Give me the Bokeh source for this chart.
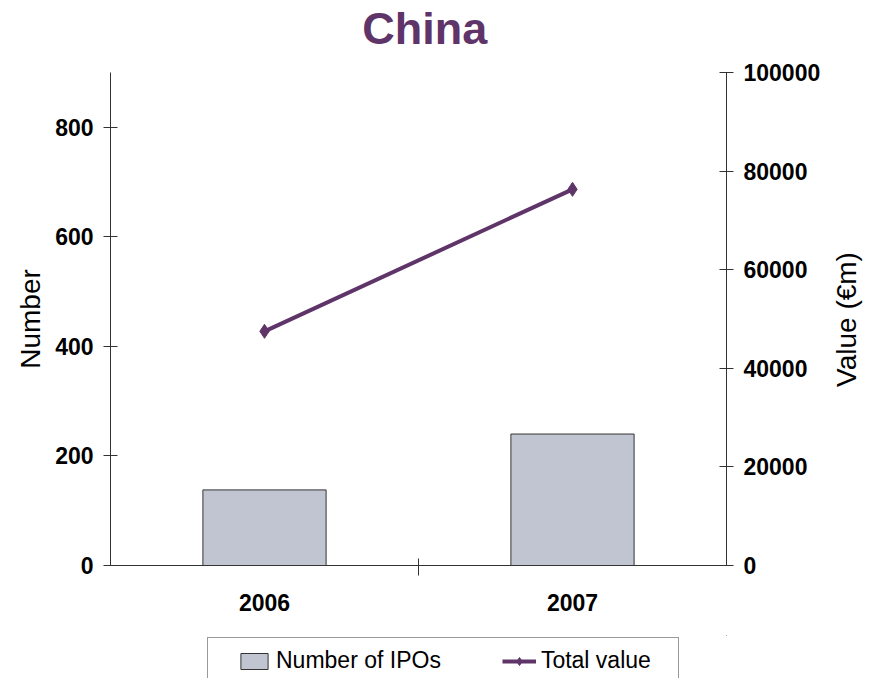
import math
from bokeh.plotting import figure
from bokeh.layouts import column, row
from bokeh.models import (Range1d, LinearAxis, FixedTicker, Legend, LegendItem,
                          NumeralTickFormatter, Label)
from bokeh.embed import file_html
from bokeh.resources import INLINE

# ---- data ----
title_text = "China"
years = ["2006", "2007"]
num_ipos = [138, 240]
total_value = [47500, 76300]
left_ticks = [0, 200, 400, 600, 800]
right_ticks = [0, 20000, 40000, 60000, 80000, 100000]
series_names = ["Number of IPOs", "Total value"]
left_title = "Number"
right_title = "Value (€m)"

PURPLE = "#5f3468"
BAR_FILL = "#c0c5d1"
AXIS_COL = "#333333"
FONT = "Liberation Sans"
W = 830  # width of the chart column; the right title sits in a 40px strip


def strip(width, height, xr, yr):
    f = figure(width=width, height=height, output_backend="svg",
               toolbar_location=None, x_range=xr, y_range=yr,
               min_border_left=0, min_border_right=0, min_border_top=0,
               min_border_bottom=0, x_axis_location=None, y_axis_location=None)
    f.outline_line_color = None
    f.xgrid.visible = False
    f.ygrid.visible = False
    return f


# ---- title strip ----
ts = strip(W, 60, Range1d(0, 1), Range1d(0, 60))
ts.add_layout(Label(x=0.51, y=32, text=title_text, text_font=FONT,
                    text_font_size="45px", text_font_style="bold",
                    text_color=PURPLE, text_align="center",
                    text_baseline="alphabetic"))

# ---- main chart ----
xpos = [i + 0.5 for i in range(len(years))]

p = figure(width=W, height=575, output_backend="svg", toolbar_location=None,
           x_range=Range1d(0, len(years)), y_range=Range1d(0, 900),
           min_border_left=110, min_border_right=W - 726, min_border_top=12,
           min_border_bottom=70, x_axis_location=None, y_axis_location=None)
p.outline_line_color = None
p.xgrid.visible = False
p.ygrid.visible = False
p.extra_y_ranges = {"val": Range1d(0, 100000)}

xaxis = LinearAxis(ticker=FixedTicker(ticks=xpos, minor_ticks=[1]))
xaxis.major_label_overrides = {x: y for x, y in zip(xpos, years)}
xaxis.major_tick_in = 0
xaxis.major_tick_out = 0
xaxis.minor_tick_in = 7
xaxis.minor_tick_out = 10
xaxis.minor_tick_line_color = AXIS_COL
xaxis.axis_line_color = AXIS_COL
xaxis.major_label_standoff = 18
xaxis.major_label_text_font = FONT
xaxis.major_label_text_font_size = "23px"
xaxis.major_label_text_font_style = "bold"
xaxis.major_label_text_color = "black"
p.add_layout(xaxis, "below")

yaxis = LinearAxis(ticker=FixedTicker(ticks=left_ticks, minor_ticks=[]),
                   axis_label=left_title)
p.add_layout(yaxis, "left")

raxis = LinearAxis(y_range_name="val",
                   ticker=FixedTicker(ticks=right_ticks, minor_ticks=[]),
                   formatter=NumeralTickFormatter(format="0"))
p.add_layout(raxis, "right")

for ax in (yaxis, raxis):
    ax.major_tick_in = 7
    ax.major_tick_out = 7
    ax.axis_line_color = AXIS_COL
    ax.major_tick_line_color = AXIS_COL
    ax.minor_tick_line_color = None
    ax.major_label_text_font = FONT
    ax.major_label_text_font_size = "23px"
    ax.major_label_text_font_style = "bold"
    ax.major_label_text_color = "black"
    ax.major_label_standoff = 10
    ax.axis_label_text_font = FONT
    ax.axis_label_text_font_size = "28px"
    ax.axis_label_text_font_style = "normal"
    ax.axis_label_text_color = "black"
    ax.axis_label_standoff = 6

bar_style = dict(fill_color=BAR_FILL, line_color=AXIS_COL, line_width=1)
line_style = dict(line_color=PURPLE, line_width=4)
pt_style = dict(marker="diamond", size=14, fill_color=PURPLE, line_color=PURPLE)

p.vbar(x=xpos, top=num_ipos, width=0.4, **bar_style)
p.line(x=xpos, y=total_value, y_range_name="val", **line_style)
p.scatter(x=xpos, y=total_value, y_range_name="val", **pt_style)

# ---- legend strip (cut at the window edge, as in the reference) ----
# its renderers carry the same series but lie outside the strip's view
lg = strip(W, 43, Range1d(-3, -2), Range1d(-3, -2))
lb = lg.vbar(x=xpos, top=num_ipos, width=0.4, **bar_style)
ll = lg.line(x=xpos, y=total_value, **line_style)
ls = lg.scatter(x=xpos, y=total_value, **pt_style)

legend = Legend(items=[LegendItem(label=series_names[0], renderers=[lb]),
                       LegendItem(label=series_names[1], renderers=[ll, ls])],
                orientation="horizontal", location=(97, -6), margin=0)
legend.title = "\u00a0"
legend.title_location = "left"
legend.title_text_font_size = "10px"
legend.title_standoff = 9
legend.border_line_color = AXIS_COL
legend.border_line_width = 1
legend.background_fill_alpha = 1
legend.padding = 9
legend.spacing = 61
legend.glyph_width = 34
legend.glyph_height = 20
legend.label_height = 20
legend.label_width = 128
legend.label_standoff = 5
legend.label_text_font = FONT
legend.label_text_font_size = "23px"
legend.label_text_color = "black"
lg.add_layout(legend)

# ---- right title strip (reads bottom-to-top, centred on the value axis) ----
rs = strip(870 - W, 678, Range1d(0, 870 - W), Range1d(0, 678))
rs.add_layout(Label(x=15.5, y=678 - 319, text=right_title, angle=math.pi / 2,
                    text_font=FONT, text_font_size="28px", text_color="black",
                    text_align="center", text_baseline="middle"))

layout = row(column(ts, p, lg, spacing=0), rs, spacing=0)
open("out.html", "w").write(file_html(layout, INLINE))
